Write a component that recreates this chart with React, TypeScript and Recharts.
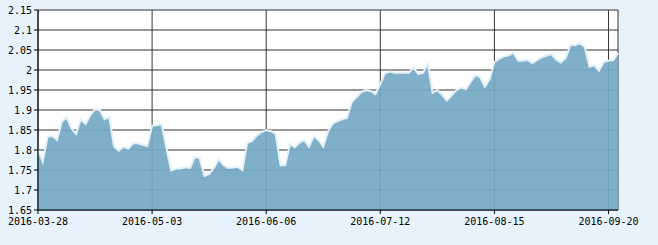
import React from "react";
import { AreaChart, Area, XAxis, YAxis, CartesianGrid } from "recharts";

const dates: string[] = [
  "2016-03-28", "2016-03-29", "2016-03-30", "2016-03-31",
  "2016-04-01", "2016-04-05", "2016-04-06", "2016-04-07", "2016-04-08",
  "2016-04-11", "2016-04-12", "2016-04-13", "2016-04-14", "2016-04-15",
  "2016-04-18", "2016-04-19", "2016-04-20", "2016-04-21", "2016-04-22",
  "2016-04-25", "2016-04-26", "2016-04-27", "2016-04-28", "2016-04-29",
  "2016-05-03", "2016-05-04", "2016-05-05", "2016-05-06",
  "2016-05-09", "2016-05-10", "2016-05-11", "2016-05-12", "2016-05-13",
  "2016-05-16", "2016-05-17", "2016-05-18", "2016-05-19", "2016-05-20",
  "2016-05-23", "2016-05-24", "2016-05-25", "2016-05-26", "2016-05-27",
  "2016-05-30", "2016-05-31", "2016-06-01", "2016-06-02", "2016-06-03",
  "2016-06-06", "2016-06-07", "2016-06-08",
  "2016-06-13", "2016-06-14", "2016-06-15", "2016-06-16", "2016-06-17",
  "2016-06-20", "2016-06-21", "2016-06-22", "2016-06-23", "2016-06-24",
  "2016-06-27", "2016-06-28", "2016-06-29", "2016-06-30", "2016-07-01",
  "2016-07-04", "2016-07-05", "2016-07-06", "2016-07-07", "2016-07-08",
  "2016-07-11", "2016-07-12", "2016-07-13", "2016-07-14", "2016-07-15",
  "2016-07-18", "2016-07-19", "2016-07-20", "2016-07-21", "2016-07-22",
  "2016-07-25", "2016-07-26", "2016-07-27", "2016-07-28", "2016-07-29",
  "2016-08-01", "2016-08-02", "2016-08-03", "2016-08-04", "2016-08-05",
  "2016-08-08", "2016-08-09", "2016-08-10", "2016-08-11", "2016-08-12",
  "2016-08-15", "2016-08-16", "2016-08-17", "2016-08-18", "2016-08-19",
  "2016-08-22", "2016-08-23", "2016-08-24", "2016-08-25", "2016-08-26",
  "2016-08-29", "2016-08-30", "2016-08-31", "2016-09-01", "2016-09-02",
  "2016-09-05", "2016-09-06", "2016-09-07", "2016-09-08", "2016-09-09",
  "2016-09-12", "2016-09-13", "2016-09-14",
  "2016-09-19", "2016-09-20", "2016-09-21", "2016-09-22",
];

const values: number[] = [
  1.80, 1.77, 1.833, 1.835, 1.825, 1.87, 1.882, 1.855, 1.84, 1.877,
  1.865, 1.887, 1.902, 1.90, 1.877, 1.882, 1.808, 1.798, 1.808, 1.803,
  1.817, 1.817, 1.813, 1.81, 1.861, 1.862, 1.865, 1.805, 1.749, 1.753,
  1.754, 1.757, 1.755, 1.783, 1.779, 1.735, 1.74, 1.755, 1.777, 1.762,
  1.755, 1.756, 1.758, 1.75, 1.817, 1.822, 1.836, 1.845, 1.85, 1.847,
  1.84, 1.762, 1.762, 1.815, 1.807, 1.818, 1.825, 1.808, 1.835, 1.825,
  1.808, 1.846, 1.866, 1.872, 1.877, 1.88, 1.92, 1.932, 1.945, 1.95,
  1.947, 1.94, 1.965, 1.992, 1.996, 1.993, 1.993, 1.993, 1.993, 2.006,
  1.99, 1.993, 2.016, 1.943, 1.95, 1.938, 1.924, 1.936, 1.95, 1.956,
  1.952, 1.97, 1.987, 1.982, 1.958, 1.977, 2.02, 2.028, 2.034, 2.037,
  2.043, 2.023, 2.023, 2.025, 2.017, 2.025, 2.032, 2.036, 2.04, 2.026,
  2.019, 2.03, 2.063, 2.062, 2.067, 2.058, 2.008, 2.012, 1.998, 2.02,
  2.023, 2.025, 2.042,
];

const yTicks: number[] = [1.65, 1.7, 1.75, 1.8, 1.85, 1.9, 1.95, 2, 2.05, 2.1, 2.15];

const data = dates.map((d, i) => ({ date: d, value: values[i] }));

const tickStyle = { fontFamily: "'DejaVu Sans Mono', monospace", fontSize: 10, fill: "#000" };

export default function App() {
  return (
    <div style={{ position: "fixed", left: 0, top: 0, width: 658, height: 245, background: "#E7F3FC" }}>
      <AreaChart
        width={658}
        height={245}
        data={data}
        margin={{ top: 10, right: 40, bottom: 0, left: 0 }}
      >
        <CartesianGrid stroke="#333" strokeWidth={1} fill="#fff" />
        <XAxis
          dataKey="date"
          interval={23}
          height={35}
          tickSize={4}
          tickMargin={4}
          axisLine={{ stroke: "#000" }}
          tickLine={{ stroke: "#000" }}
          tick={tickStyle}
        />
        <YAxis
          domain={[1.65, 2.15]}
          ticks={yTicks}
          width={38}
          tickSize={4}
          tickMargin={2}
          interval={0}
          axisLine={{ stroke: "#000" }}
          tickLine={{ stroke: "#000" }}
          tick={tickStyle}
        />
        <YAxis
          yAxisId="right"
          orientation="right"
          domain={[1.65, 2.15]}
          width={0}
          tick={false}
          tickLine={false}
          axisLine={{ stroke: "#000" }}
        />
        <Area
          type="linear"
          dataKey="value"
          stroke="#e2f0fa"
          strokeWidth={2}
          fill="#76a9c6"
          fillOpacity={0.93}
          dot={false}
          activeDot={false}
          isAnimationActive={false}
        />
      </AreaChart>
    </div>
  );
}
